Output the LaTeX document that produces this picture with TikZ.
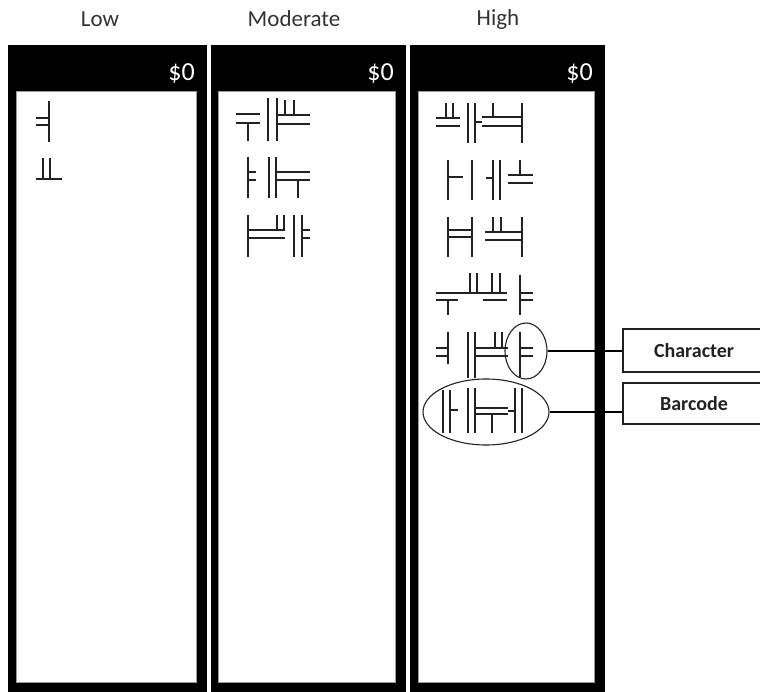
\documentclass[tikz,border=0pt]{standalone}
\usepackage{fontspec}
\setmainfont{Carlito}
\usetikzlibrary{shapes.geometric}
\definecolor{inkgray}{HTML}{222222}
\definecolor{titlegray}{HTML}{333333}
\begin{document}
\begin{tikzpicture}[x=1pt,y=-1pt,
  glyph/.style={line width=2.6pt, draw=inkgray},
  title/.style={font=\fontsize{23}{25}\selectfont, text=titlegray, inner sep=0pt},
  price/.style={font=\fontsize{26}{28}\selectfont, text=white, inner sep=0pt, anchor=base east},
  oval/.style={ellipse, draw=inkgray, line width=1.1pt, inner sep=0pt},
  tag/.style={draw=inkgray, line width=1.3pt, fill=white, minimum width=142pt,
              font=\bfseries\fontsize{20}{22}\selectfont, text=inkgray},
  link/.style={draw=black, line width=1.2pt}]
\clip (0,0) rectangle (760,692);
\fill[white] (0,0) rectangle (760,692);

% three screens: black frame, header bar and white work area
\fill[black] (8,45) rectangle (207,700);
\fill[black] (211,45) rectangle (406,700);
\fill[black] (410,45) rectangle (605,700);
\filldraw[fill=white, draw=black!40, line width=0.8pt] (16,91) rectangle (196,682);
\filldraw[fill=white, draw=black!40, line width=0.8pt] (218,91) rectangle (395,682);
\filldraw[fill=white, draw=black!40, line width=0.8pt] (418,91) rectangle (594,682);

% column titles and balances
\node[title] (lowTitle) at (100,19) {Low};
\node[title] (modTitle) at (294,19) {Moderate};
\node[title] (highTitle) at (498,19) {High};
\node[price] (lowPrice) at (195,81) {\$0};
\node[price] (modPrice) at (394,81) {\$0};
\node[price] (highPrice) at (593,81) {\$0};

% Low
\draw[glyph] (49,101) -- (49,142) (36,118) -- (49,118) (36,125) -- (49,125);
\draw[glyph] (36,179) -- (62,179) (43,158) -- (43,179) (50,158) -- (50,179);

% Moderate, row 1
\draw[glyph] (236,114) -- (260,114) (236,123) -- (260,123) (248,123) -- (248,141);
\draw[glyph] (268,98) -- (268,141) (277,98) -- (277,141);
\draw[glyph] (277,115) -- (310,115) (277,124) -- (310,124) (285,100) -- (285,115) (294,100) -- (294,115);
% Moderate, row 2
\draw[glyph] (248,157) -- (248,198) (248,172) -- (256,172) (248,180) -- (256,180);
\draw[glyph] (269,157) -- (269,198) (276,157) -- (276,198);
\draw[glyph] (276,172) -- (310,172) (276,180) -- (310,180) (298,180) -- (298,198);
% Moderate, row 3
\draw[glyph] (248,215) -- (248,257) (248,230) -- (285,230) (248,238) -- (285,238) (277,215) -- (277,230) (284,215) -- (284,230);
\draw[glyph] (294,215) -- (294,257) (302,215) -- (302,257) (302,230) -- (310,230) (302,238) -- (310,238);

% High, row 1
\draw[glyph] (436,118) -- (460,118) (436,126) -- (460,126) (446,103) -- (446,118) (453,103) -- (453,118);
\draw[glyph] (468,103) -- (468,143) (475,103) -- (475,143);
\draw[glyph] (475,122) -- (482,122) (482,117) -- (522,117) (482,126) -- (522,126) (493,103) -- (493,117) (522,103) -- (522,143);
% High, row 2
\draw[glyph] (448,160) -- (448,200) (448,177) -- (463,177) (472,160) -- (472,200);
\draw[glyph] (493,160) -- (493,200) (500,160) -- (500,200) (486,178) -- (493,178);
\draw[glyph] (508,175) -- (533,175) (508,183) -- (533,183) (520,160) -- (520,175);
% High, row 3
\draw[glyph] (448,217) -- (448,257) (472,217) -- (472,257) (448,230) -- (472,230) (448,237) -- (472,237);
\draw[glyph] (485,232) -- (522,232) (485,240) -- (522,240) (493,217) -- (493,232) (501,217) -- (501,232) (522,217) -- (522,257);
% High, row 4
\draw[glyph] (436,293) -- (458,293) (436,300) -- (458,300) (448,300) -- (448,315);
\draw[glyph] (458,293) -- (483,293) (470,273) -- (470,293) (477,273) -- (477,293);
\draw[glyph] (483,293) -- (507,293) (483,300) -- (507,300) (492,273) -- (492,293) (500,273) -- (500,293);
\draw[glyph] (520,275) -- (520,315) (520,293) -- (533,293) (520,300) -- (533,300);
% High, row 5
\draw[glyph] (448,332) -- (448,364) (436,348) -- (448,348) (436,356) -- (448,356);
\draw[glyph] (468,332) -- (468,378) (475,332) -- (475,378) (475,348) -- (508,348) (475,356) -- (508,356) (495,332) -- (495,348) (502,332) -- (502,348);
\draw[glyph] (520,332) -- (520,377) (520,348) -- (533,348) (520,356) -- (533,356);
% High, row 6
\draw[glyph] (443,390) -- (443,433) (450,390) -- (450,433) (450,410) -- (458,410);
\draw[glyph] (468,388) -- (468,433) (475,388) -- (475,433);
\draw[glyph] (475,408) -- (508,408) (475,414) -- (508,414) (492,414) -- (492,433);
\draw[glyph] (515,388) -- (515,433) (522,388) -- (522,433) (508,411) -- (515,411);

% callouts
\node[oval, minimum width=42pt, minimum height=56pt] (charOval) at (526,351) {};
\node[oval, minimum width=126pt, minimum height=66pt] (barOval) at (486,412) {};
\node[tag, minimum height=43pt] (charTag) at (694,350.5) {Character};
\node[tag, minimum height=41pt] (barTag) at (694,403.5) {Barcode};
\draw[link] (charOval.east) -- (charOval.east -| charTag.west);
\draw[link] (barOval.east) -- (barOval.east -| barTag.west);
\end{tikzpicture}
\end{document}
